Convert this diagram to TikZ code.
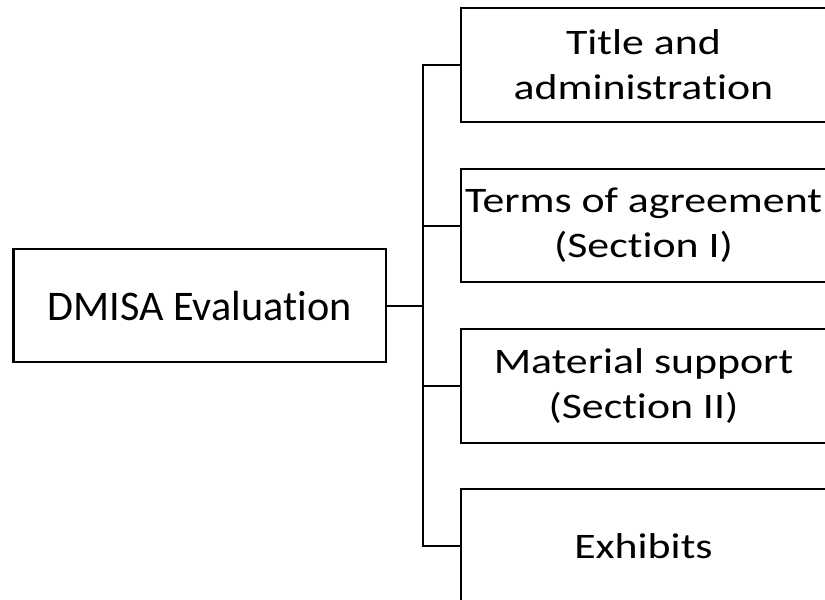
\documentclass[tikz,border=0pt]{standalone}
\usepackage{fontspec}
\setmainfont[Ligatures=NoCommon]{Carlito}
\newfontfamily\widefont[Ligatures=NoCommon,FakeStretch=1.22]{Carlito}
% keep "t" and "i" as separate glyphs
\newcommand\tisep{\kern0pt }
\begin{document}
\begin{tikzpicture}[x=1pt,y=-1pt,
  box/.style={draw=black, line width=2.2pt, fill=white, inner sep=0pt, outer sep=0pt,
    align=center, minimum height=113.4pt},
  rootbox/.style={box, minimum width=372.5pt, font=\fontsize{42.2}{45}\selectfont},
  leafbox/.style={box, minimum width=365pt, font=\widefont\fontsize{35.9}{45}\selectfont},
  link/.style={line width=2pt, line cap=rect}]
\useasboundingbox (0,0) rectangle (825,600);
\clip (0,0) rectangle (825,600);
\fill[white] (0,0) rectangle (825,600);

% root of the tree
\node[rootbox] (root) at (199.8,305.5) {DMISA Evalua\tisep tion};

% four branches on the right
\node[leafbox] (b1) at (643.5,65)    {Title and\\administra\tisep tion};
\node[leafbox] (b2) at (643.5,225.5) {Terms of agreement\\(Section I)};
\node[leafbox] (b3) at (643.5,386)   {Material support\\(Section II)};
\node[leafbox] (b4) at (643.5,546)   {Exhibits};

% elbow connectors through a common trunk
\draw[link] (root.east) -- (423.3,305.5) coordinate (hub);
\foreach \b in {b1,b2,b3,b4}
  \draw[link] (hub) |- (\b.west);
\end{tikzpicture}
\end{document}
